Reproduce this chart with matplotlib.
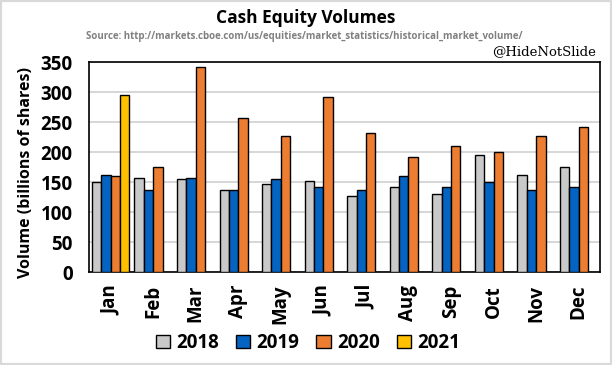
import numpy as np
import matplotlib.pyplot as plt
from matplotlib.patches import Rectangle

months = ['Jan', 'Feb', 'Mar', 'Apr', 'May', 'Jun', 'Jul', 'Aug', 'Sep', 'Oct', 'Nov', 'Dec']
v2018 = [150, 158, 155, 138, 147, 153, 127, 142, 130, 195, 162, 175]
v2019 = [163, 137, 158, 138, 155, 143, 137, 160, 143, 150, 137, 143]
v2020 = [160, 175, 343, 258, 227, 292, 232, 193, 210, 200, 227, 242]
v2021 = [295]
years = ['2018', '2019', '2020', '2021']
colors = ['#C9C9C9', '#0563C1', '#ED7D31', '#FFC000']

plt.rcParams['font.family'] = ['Open Sans', 'DejaVu Sans']

fig = plt.figure(figsize=(6.12, 3.65), dpi=100)
ax = fig.add_axes([89.3/612, 1-272.3/365, 510.7/612, 210/365])

x = np.arange(len(months))
w = 0.22
series = [v2018, v2019, v2020, v2021]
for i, vals in enumerate(series):
    xs = x[:len(vals)] + (i - 1.5) * w
    ax.bar(xs, vals, width=w, color=colors[i], edgecolor='black', linewidth=1.0,
           label=years[i], zorder=3)

ax.set_xlim(-0.5, 11.5)
ax.set_ylim(0, 350)
ax.set_yticks(range(0, 351, 50))
ax.yaxis.grid(True, color='#D0D0D0', linewidth=1.2, zorder=0)
ax.set_axisbelow(True)
ax.set_xticks(x)
ax.set_xticklabels(months, rotation=90, fontsize=13.5, fontweight='bold')
ax.tick_params(axis='x', length=0, pad=9)
ax.tick_params(axis='y', length=0, pad=12, labelsize=13.5)
for lab in ax.get_yticklabels():
    lab.set_fontweight('bold')
for s in ax.spines.values():
    s.set_linewidth(1.2)
ax.set_ylabel('Volume (billions of shares)', fontsize=11.5, fontweight='bold')
ax.yaxis.set_label_coords(-0.108, 0.475)

leg = fig.legend(loc='center', bbox_to_anchor=(308/612, 1-343/365), ncol=4, frameon=False,
                 handlelength=0.75, handleheight=0.75, handletextpad=0.35,
                 columnspacing=0.9, prop={'weight': 'bold', 'size': 13.5})

fig.text(306/612, 1-18/365, 'Cash Equity Volumes', ha='center', va='center',
         fontsize=12.5, fontweight='bold')
fig.text(304/612, 1-37/365, 'Source: http://markets.cboe.com/us/equities/market_statistics/historical_market_volume/',
         ha='center', va='center', fontsize=7, fontweight='bold', color='#808080')
fig.text(596/612, 1-52/365, '@HideNotSlide', ha='right', va='center',
         fontsize=9.5, family='DejaVu Serif', color='black')

fig.patches.append(Rectangle((0, 0), 1, 1, transform=fig.transFigure, fill=False,
                             edgecolor='#D9D9D9', linewidth=3))

fig.savefig('out.png', dpi=100)
